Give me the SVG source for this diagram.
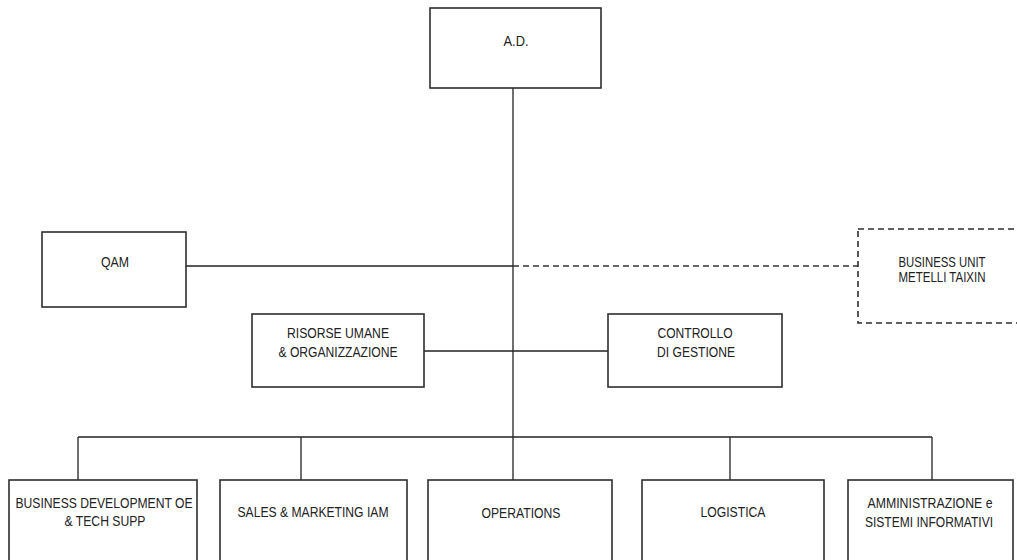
<svg xmlns="http://www.w3.org/2000/svg" width="1017" height="560" viewBox="0 0 1017 560">
  <style>
    .box { fill: #ffffff; stroke: #2e2e2e; stroke-width: 1.6; }
    .dbox { fill: #ffffff; stroke: #2e2e2e; stroke-width: 1.6; stroke-dasharray: 6 4; }
    .ln { fill: none; stroke: #222222; stroke-width: 1.3; }
    .dln { fill: none; stroke: #333333; stroke-width: 1.3; stroke-dasharray: 6 4; }
    text { font-family: "Liberation Sans", Arial, sans-serif; font-size: 14px; fill: #222222; text-anchor: middle; }
  </style>
  <rect width="1017" height="560" fill="#ffffff"/>

  <g id="connectors">
    <line class="ln" x1="513" y1="88" x2="513" y2="480"/>
    <line class="ln" x1="186" y1="266" x2="513" y2="266"/>
    <line class="dln" x1="513" y1="266" x2="858" y2="266"/>
    <line class="ln" x1="424" y1="351" x2="608" y2="351"/>
    <line class="ln" x1="78" y1="437" x2="932" y2="437"/>
    <line class="ln" x1="78" y1="437" x2="78" y2="480"/>
    <line class="ln" x1="301" y1="437" x2="301" y2="480"/>
    <line class="ln" x1="730" y1="437" x2="730" y2="480"/>
    <line class="ln" x1="932" y1="437" x2="932" y2="480"/>
  </g>

  <g id="ad">
    <rect class="box" x="430" y="8" width="171" height="80"/>
    <text x="516" y="46" textLength="25" lengthAdjust="spacingAndGlyphs">A.D.</text>
  </g>

  <g id="qam">
    <rect class="box" x="42" y="232" width="144" height="75"/>
    <text x="115" y="267" textLength="28" lengthAdjust="spacingAndGlyphs">QAM</text>
  </g>

  <g id="business-unit">
    <rect class="dbox" x="858" y="229" width="170" height="94"/>
    <text x="942" y="267" textLength="87" lengthAdjust="spacingAndGlyphs">BUSINESS UNIT</text>
    <text x="942" y="282" textLength="87" lengthAdjust="spacingAndGlyphs">METELLI TAIXIN</text>
  </g>

  <g id="risorse-umane">
    <rect class="box" x="252" y="314" width="172" height="73"/>
    <text x="338" y="338" textLength="102" lengthAdjust="spacingAndGlyphs">RISORSE UMANE</text>
    <text x="338" y="357" textLength="119" lengthAdjust="spacingAndGlyphs">&amp; ORGANIZZAZIONE</text>
  </g>

  <g id="controllo">
    <rect class="box" x="608" y="314" width="174" height="73"/>
    <text x="695" y="338" textLength="75" lengthAdjust="spacingAndGlyphs">CONTROLLO</text>
    <text x="696" y="357" textLength="78" lengthAdjust="spacingAndGlyphs">DI GESTIONE</text>
  </g>

  <g id="business-development">
    <rect class="box" x="9" y="480" width="188" height="95"/>
    <text x="104" y="508" textLength="177" lengthAdjust="spacingAndGlyphs">BUSINESS DEVELOPMENT OE</text>
    <text x="105" y="526" textLength="81" lengthAdjust="spacingAndGlyphs">&amp; TECH SUPP</text>
  </g>

  <g id="sales-marketing">
    <rect class="box" x="220" y="480" width="187" height="95"/>
    <text x="313" y="517" textLength="151" lengthAdjust="spacingAndGlyphs">SALES &amp; MARKETING IAM</text>
  </g>

  <g id="operations">
    <rect class="box" x="428" y="480" width="184" height="95"/>
    <text x="521" y="518" textLength="79" lengthAdjust="spacingAndGlyphs">OPERATIONS</text>
  </g>

  <g id="logistica">
    <rect class="box" x="642" y="480" width="182" height="95"/>
    <text x="733" y="517" textLength="65" lengthAdjust="spacingAndGlyphs">LOGISTICA</text>
  </g>

  <g id="amministrazione">
    <rect class="box" x="848" y="480" width="165" height="95"/>
    <text x="930" y="508" textLength="125" lengthAdjust="spacingAndGlyphs">AMMINISTRAZIONE e</text>
    <text x="929" y="527" textLength="128" lengthAdjust="spacingAndGlyphs">SISTEMI INFORMATIVI</text>
  </g>
</svg>
